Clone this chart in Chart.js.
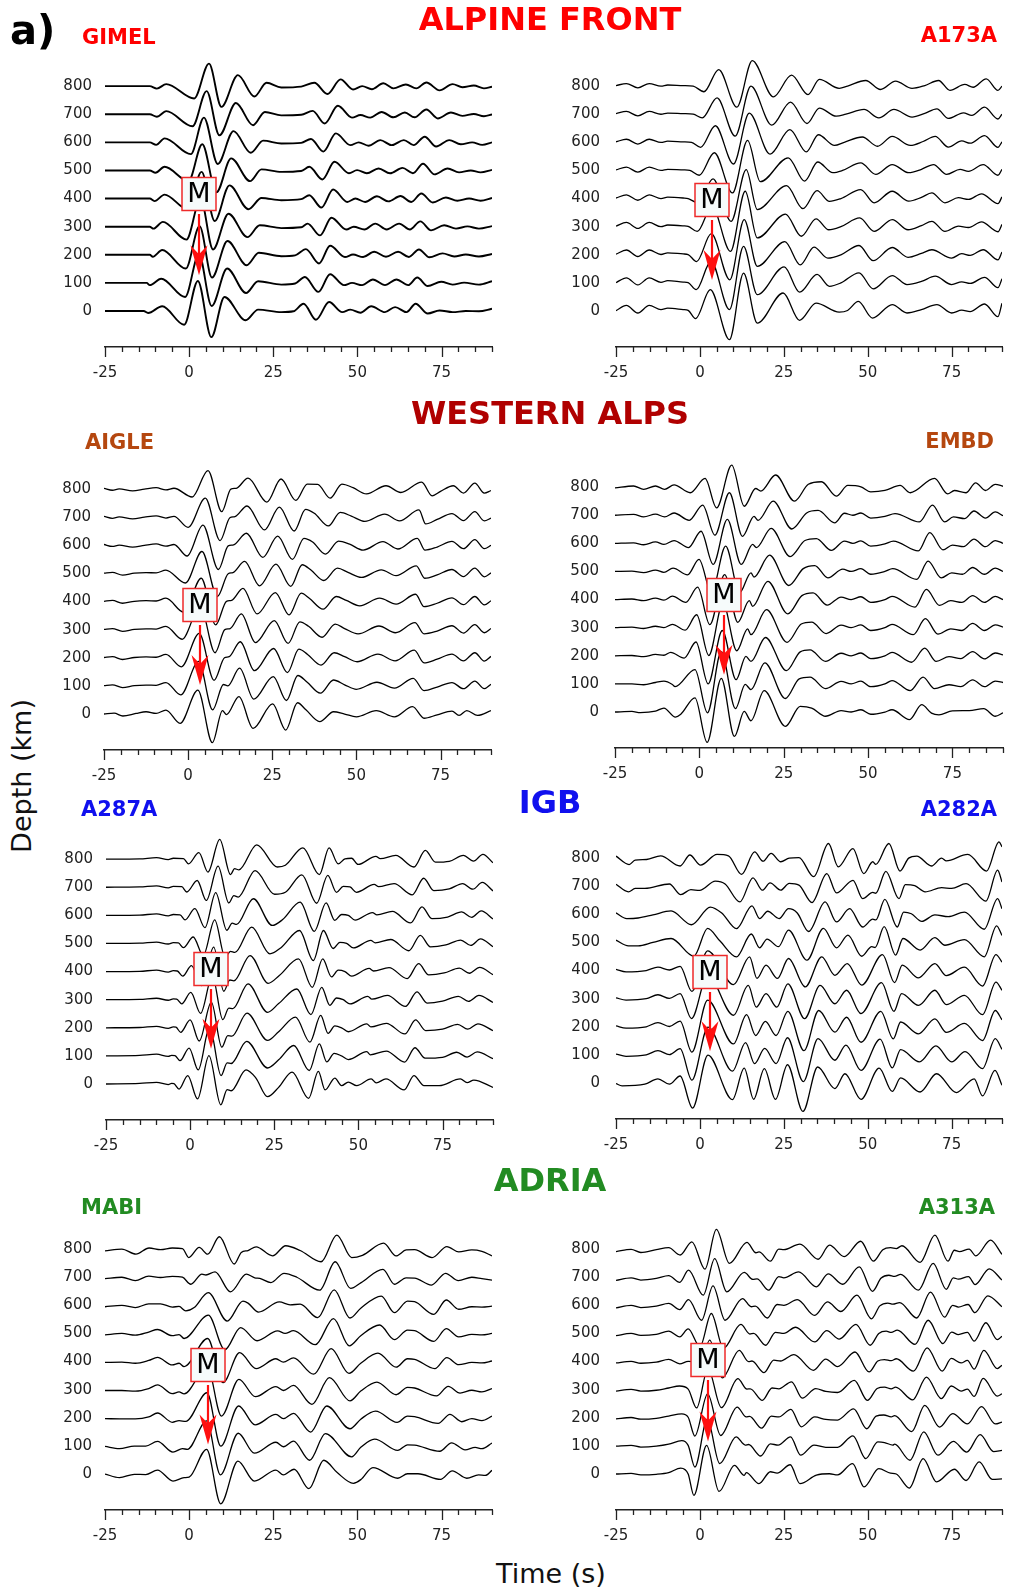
<!DOCTYPE html>
<html>
<head>
<meta charset="utf-8">
<script src="https://cdn.jsdelivr.net/npm/chart.js@4/dist/chart.umd.min.js"></script>
<style>
  body { margin: 0; background: #fff; width: 1009px; height: 1591px; position: relative; overflow: hidden; font-family: "DejaVu Sans", sans-serif; }
  canvas { position: absolute; }
  .lbl { position: absolute; white-space: nowrap; line-height: 1; font-weight: bold; }
</style>
</head>
<body>
<script>
// ---- data: traces are [time (s), amplitude (km)] picked off the figure, top trace first ----
const depths = [800, 700, 600, 500, 400, 300, 200, 100, 0];
const stations = ['GIMEL', 'A173A', 'AIGLE', 'EMBD', 'A287A', 'A282A', 'MABI', 'A313A'];
const regions = ['ALPINE FRONT', 'WESTERN ALPS', 'IGB', 'ADRIA'];

const gimel = [
  [[-25,0],[-11.7,0],[-9.6,-9],[-6.8,7],[1.5,-44],[5.9,80],[9.6,-74],[14.5,39],[19.4,-37],[23,12],[27.4,-5],[33.3,-2],[37.2,12],[41.1,-28],[45,24],[48.7,-12],[51.4,0],[54.3,-11],[57.7,10],[60.7,-8],[64.4,6],[67.5,-8],[70.5,13],[74.4,-15],[78.3,7],[81.2,-4],[84.6,2],[87.6,-8],[90,-2]],
  [[-25,0],[-11.7,0],[-9.6,-9],[-6.8,11],[1,-43],[5.2,82],[9,-75],[13.9,40],[19,-39],[22.5,8],[27.4,-4],[33.3,-2],[36.7,12],[40.3,-33],[44.2,30],[48.4,-12],[50.9,-3],[53.8,-12],[57.2,8],[60.7,-11],[64.1,6],[67,-11],[70.5,17],[73.9,-15],[77.8,6],[81.2,-6],[84.6,1],[87.6,-7],[90,-1]],
  [[-25,0],[-11.7,0],[-9.8,-9],[-7.3,14],[0.5,-42],[4.4,88],[8.5,-77],[13.2,40],[18.3,-37],[22,6],[27.4,-4],[33.3,-2],[36.2,12],[39.9,-33],[43.6,32],[47.9,-10],[50.4,0],[53.3,-12],[56.8,8],[60.2,-10],[63.8,8],[66.7,-10],[70,20],[73.4,-15],[77.3,8],[80.7,-7],[84.1,0],[87.1,-9],[90,0]],
  [[-25,0],[-11.7,0],[-10,-8],[-7.3,13],[-0.2,-38],[3.9,93],[8.1,-78],[12.5,43],[18.1,-38],[21.5,4],[27.4,-5],[33.3,-2],[35.7,13],[39.6,-32],[43.2,31],[47.5,-10],[49.9,1],[52.8,-10],[56.3,7],[59.7,-10],[63.4,9],[66.5,-10],[69.5,24],[72.9,-14],[76.8,7],[80.2,-7],[83.7,0],[86.6,-7],[90,2]],
  [[-25,0],[-11.7,0],[-10.3,-9],[-7.3,14],[-0.5,-38],[3.7,95],[7.6,-80],[12,47],[17.6,-38],[21.5,2],[27.4,-6],[33.3,-2],[35.7,12],[39.3,-32],[42.8,32],[47,-12],[49.4,0],[52.3,-12],[55.8,8],[59.2,-10],[62.8,9],[66,-12],[69,18],[72.4,-14],[76.3,4],[79.7,-8],[83.2,0],[86.6,-8],[90,2]],
  [[-25,0],[-11.7,0],[-10.6,-7],[-7.8,17],[-0.8,-46],[3.4,100],[7.1,-81],[11.7,46],[17.3,-37],[21,5],[27.4,-5],[33.3,-2],[35.2,11],[38.9,-31],[42.3,32],[46.7,-10],[48.9,0],[52.1,-10],[55.3,11],[58.7,-10],[62.4,11],[65.6,-10],[68.7,19],[71.9,-13],[75.8,5],[79.3,-7],[82.7,1],[86.1,-7],[90,2]],
  [[-25,0],[-11.7,0],[-10.8,-7],[-8,17],[-1,-49],[3.1,102],[6.8,-81],[11.4,49],[17.1,-37],[20.7,7],[27.4,-5],[31.5,-2],[34.7,20],[38.6,-31],[41.9,32],[46.3,-8],[48.7,1],[51.7,-8],[55,11],[58.5,-7],[62.1,11],[65.3,-8],[68.3,19],[71.4,-9],[75.3,5],[78.8,-6],[82.2,1],[86.1,-6],[90,3]],
  [[-25,0],[-12.6,0],[-11.7,-8],[-8.3,15],[-1.2,-50],[2.9,102],[6.7,-82],[11.3,51],[16.9,-36],[20.5,6],[27.4,-6],[31.5,-2],[34.4,21],[38.4,-32],[41.9,31],[46,-8],[48.4,0],[51.4,-8],[54.6,12],[58.2,-8],[61.6,12],[65.1,-8],[67.8,19],[70.9,-11],[74.9,4],[78.3,-6],[81.7,1],[86.1,-6],[90,6]],
  [[-25,0],[-13.5,0],[-12.2,-7],[-8,17],[-1.5,-49],[2.6,107],[6.6,-93],[10.5,50],[16.8,-33],[20.5,5],[27.4,-4],[31,-1],[34,26],[37.7,-31],[41.6,32],[45.5,-4],[47.9,5],[50.9,-6],[54.1,17],[58.2,-4],[61.2,14],[64.6,-4],[67.3,26],[70.9,-9],[74.4,2],[78.3,-4],[82.2,0],[86.1,-1],[90,8]]
];

const a173a = [
  [[-25,2],[-21.9,9],[-18.5,-6],[-15.1,9],[-11.6,0],[-9.6,4],[-5,2],[-2,0],[1.2,-20],[5.6,59],[11,-75],[15.6,91],[21.9,-38],[27.3,39],[32.2,-30],[35.6,24],[41.5,-8],[44,0],[49.4,20],[53.8,-12],[58.3,18],[63.2,-8],[67,2],[71.1,20],[74.5,-15],[78.9,6],[81.4,-4],[85.3,26],[88.8,-15],[90,0]],
  [[-25,2],[-21.9,10],[-18.5,-6],[-15.1,10],[-11.6,0],[-9.6,4],[-5,2],[-2,0],[0.7,-13],[5.1,58],[10.5,-78],[15.2,100],[21.4,-39],[27,43],[31.9,-33],[35.6,22],[40.6,-7],[43.5,0],[48.9,17],[53.3,-13],[57.8,17],[63.2,-10],[67,3],[70.6,19],[74,-15],[78.5,5],[81,-4],[84.8,25],[88.8,-17],[90,0]],
  [[-25,2],[-21.9,11],[-18.5,-6],[-15.1,11],[-11.6,0],[-9.6,4],[-5,2],[-2.5,0],[0.2,-18],[4.6,59],[10,-77],[14.7,104],[20.9,-42],[26.8,45],[31.7,-34],[35.3,27],[40.1,-11],[43,0],[48.4,19],[52.9,-14],[57.3,21],[62.7,-11],[66.5,3],[70.1,21],[74,-17],[78,5],[80.5,-3],[84.8,24],[88.8,-18],[90,2]],
  [[-25,2],[-21.9,12],[-18.5,-6],[-15.1,12],[-11.6,0],[-9.6,4],[-5,2],[-3,0],[-0.2,-17],[4.3,63],[9.7,-80],[14.2,107],[18,-40],[26.3,45],[31.2,-38],[35.1,30],[39.6,-8],[42.5,0],[47.9,27],[52.4,-14],[57.3,21],[62.2,-8],[66,4],[69.6,21],[73.5,-14],[77.5,4],[80,-3],[84.4,21],[88.8,-17],[90,4]],
  [[-25,2],[-21.9,13],[-18.5,-6],[-15.1,13],[-11.6,0],[-9.6,5],[-5,2],[-3.5,0],[-0.6,-15],[3.9,70],[9.3,-81],[13.8,103],[17.1,-39],[25.8,46],[30.7,-36],[34.9,28],[38.6,-10],[42,0],[47.9,32],[51.9,-15],[57.3,26],[62.2,-9],[66,4],[69.1,20],[73,-15],[77,3],[80,-3],[83.9,17],[88.8,-18],[90,6]],
  [[-25,2],[-21.9,15],[-18.5,-6],[-15.1,15],[-11.6,0],[-9.6,6],[-5,3],[-3.5,1],[-0.8,-17],[3.6,72],[9.1,-88],[13.5,126],[17.1,-40],[25.5,45],[30.2,-34],[34.6,28],[38.4,-11],[42,0],[47.6,31],[51.9,-17],[57.3,25],[62,-11],[66,4],[69.1,19],[73,-17],[77,2],[80,-3],[83.9,17],[88.8,-18],[90,8]],
  [[-25,2],[-21.9,17],[-18.5,-6],[-15.1,17],[-11.6,1],[-9.6,7],[-5,3],[-3.5,1],[-1,-24],[3.4,75],[8.9,-89],[13.2,125],[17.1,-41],[25.3,47],[29.9,-36],[34,27],[38.1,-12],[42,0],[47.4,33],[51.6,-21],[57.3,26],[62,-9],[66,5],[69.1,18],[75,-12],[78,4],[80.5,-2],[84.4,18],[88.8,-18],[90,10]],
  [[-25,1],[-21.9,18],[-18.5,-7],[-15.1,18],[-11.6,2],[-9.6,8],[-5,3],[-3.5,1],[-1.1,-24],[3.3,77],[8.8,-95],[13,130],[17.1,-42],[25.1,57],[29.7,-33],[34.9,30],[38.6,-12],[42,0],[47.4,36],[51.6,-21],[57.3,26],[61.7,-6],[66,5],[70.1,24],[75,-6],[78,4],[80.5,-2],[84.8,20],[88.8,-17],[90,15]],
  [[-25,1],[-21.9,20],[-18.5,-7],[-15.1,20],[-11.6,5],[-9.6,10],[-5,5],[-3.5,2],[-1.3,-27],[3.1,76],[8.8,-102],[13,135],[17.1,-43],[24.8,64],[29.7,-33],[34.6,28],[41.5,-4],[44,2],[47.2,34],[51.4,-25],[57.3,23],[61.7,-7],[66,5],[70.6,23],[75,-7],[78,3],[80.5,-2],[84.8,25],[88.8,-20],[90,28]]
];

const aigle = [
  [[-25,3],[-22.5,-4],[-20.5,1],[-16.5,-6],[-13,0],[-9.5,5],[-6.6,-3],[-4.2,3],[1.2,-28],[5.9,66],[10,-80],[12.7,0],[14.3,3],[17.8,39],[23.4,-46],[27.6,36],[32,-40],[35.4,18],[38.5,17],[42.2,-32],[45.7,18],[49,5],[53,-17],[58.8,12],[63.2,-12],[69.4,25],[72.5,-24],[75,-8],[78.8,12],[81.8,-14],[85.2,21],[88,-14],[90,-5]],
  [[-25,3],[-22.5,-4],[-20.5,1],[-16.5,-6],[-13,0],[-9.5,5],[-6.6,-3],[-4.2,3],[0,-36],[5.1,68],[9.5,-83],[12.4,-2],[13.9,2],[17.5,40],[22.7,-45],[27.1,36],[31.5,-49],[34.9,28],[37.5,14],[41.7,-31],[45.2,17],[48.5,4],[52.5,-15],[58.4,11],[62.8,-13],[68.6,26],[70.6,-24],[74,-8],[78.4,13],[81.8,-12],[85.2,20],[88,-13],[90,-3]],
  [[-25,3],[-22.5,-4],[-20.5,1],[-16.5,-6],[-13,0],[-9.5,5],[-6.6,-3],[-4.2,3],[-0.3,-38],[4.4,72],[9,-86],[11.9,-2],[13.5,2],[17.3,43],[22.2,-43],[26.6,33],[31,-50],[34.4,25],[37,12],[40.8,-31],[44.7,15],[48,4],[52,-17],[57.9,13],[62.3,-13],[68.1,25],[70.4,-17],[74,-6],[78.4,14],[81.8,-12],[85.2,20],[88,-12],[90,0]],
  [[-25,1],[-22.5,4],[-19.5,-6],[-16,1],[-12.5,3],[-9.5,2],[-6.6,12],[-0.8,-34],[4.1,78],[8.7,-82],[11.9,-1],[13.3,3],[16.8,43],[21.2,-44],[26.1,33],[30.5,-46],[33.9,31],[36.5,12],[40.3,-25],[44.4,19],[47.5,4],[51.5,-14],[57.4,13],[61.8,-8],[67.8,27],[70.3,-17],[74,-5],[78.4,14],[81.8,-11],[85.2,19],[88,-12],[90,2]],
  [[-25,1],[-22.5,4],[-19.5,-6],[-16,1],[-12.5,3],[-9.5,2],[-6.6,12],[-1.3,-38],[3.9,83],[8.2,-83],[11.4,1],[12.9,4],[16.3,47],[20.5,-44],[25.9,32],[30,-47],[33.6,30],[36,12],[40.1,-27],[44,18],[47,4],[51,-15],[56.9,12],[61.8,-9],[67.6,26],[70.1,-18],[74,-6],[78.4,13],[81.8,-11],[85.2,18],[88,-12],[90,3]],
  [[-25,1],[-22.5,4],[-19.5,-6],[-16,1],[-12.5,3],[-9.5,2],[-6.6,12],[-1.8,-34],[3.6,84],[8,-82],[10.9,0],[12.5,4],[15.8,56],[20,-46],[25.6,32],[29.7,-49],[33.2,28],[35.8,12],[39.8,-27],[43.7,20],[46.5,4],[50.5,-15],[56.7,13],[61.6,-11],[67.4,25],[70.1,-15],[74,-5],[78.4,14],[81.8,-12],[85.2,18],[88,-11],[90,4]],
  [[-25,1],[-22.5,4],[-19.5,-6],[-16,1],[-12.5,3],[-9.5,2],[-6.6,12],[-2,-32],[3.3,87],[7.7,-80],[10.8,0],[12.2,4],[15.5,57],[19.7,-46],[25.4,33],[29.5,-53],[32.9,31],[35.5,12],[39.5,-26],[43.4,18],[46.5,4],[50.2,-14],[56.4,13],[61.5,-11],[67.2,27],[70.1,-18],[74,-5],[78.4,13],[81.8,-11],[85.2,18],[88,-12],[90,5]],
  [[-25,1],[-22.5,4],[-19.5,-6],[-16,1],[-12.5,3],[-9.5,2],[-6.6,12],[-2.2,-32],[3.1,87],[7.3,-85],[10.5,5],[11.8,0],[15.3,63],[19.5,-47],[25.3,33],[29.2,-52],[32.6,37],[35.3,14],[39.3,-26],[43.2,21],[46.5,4],[50,-12],[56.1,13],[61.3,-8],[66.9,27],[70.1,-17],[74,-4],[78.4,12],[81.8,-10],[85.2,17],[88,-10],[90,6]],
  [[-25,0],[-22,3],[-19.4,-7],[-15.5,2],[-12.5,8],[-9.5,2],[-6.6,14],[-2.4,-33],[2.9,85],[7.2,-102],[10.2,12],[11.4,-2],[15.1,62],[19.3,-51],[25.1,36],[29,-57],[32.5,40],[35,15],[39.1,-27],[43.2,8],[46.5,0],[50,-10],[55.9,12],[61.3,-10],[66.7,26],[70.1,-15],[74,-3],[78.4,10],[80.5,-5],[82.8,12],[86,-5],[90,12]]
];

const embd = [
  [[-25,-3],[-19.5,4],[-16.5,-8],[-13,4],[-10.3,-8],[-7.5,8],[-2.7,-20],[1.7,31],[5.1,-74],[9.6,78],[13.3,-68],[16.7,-5],[18.2,-14],[22.6,43],[28.2,-50],[32.3,10],[36.2,19],[40.6,-32],[44,6],[47.9,1],[50.8,-17],[55,-12],[59.5,6],[62.5,-20],[69.7,31],[73.6,-24],[75.6,-12],[79,-20],[81.9,15],[84.8,-12],[87.7,10],[90,3]],
  [[-25,0],[-19.5,3],[-16.5,-6],[-13,4],[-10.3,-6],[-7.5,8],[-3,-18],[1,36],[4.6,-71],[8.9,80],[12.8,-75],[16.2,-4],[17.4,-18],[21.9,50],[27.4,-49],[31.8,8],[35.2,17],[40.1,-27],[43,7],[45.5,0],[47.9,8],[50.8,-10],[55,-4],[58,6],[65.2,-24],[69.1,36],[72.7,-24],[75.3,-6],[78.6,-12],[81.4,15],[84.8,-10],[87.7,12],[90,-2]],
  [[-25,0],[-19.5,2],[-16.5,-5],[-13,5],[-10.5,-4],[-7.5,10],[-3.2,-15],[0.5,43],[4.1,-75],[8.3,85],[12.4,-75],[15.8,-4],[16.9,-15],[21.3,53],[26.9,-47],[31.3,10],[34.7,17],[39.1,-25],[43,8],[45.5,0],[47.9,9],[50.8,-10],[55,-2],[57.5,8],[64.9,-27],[68.3,38],[72.2,-23],[75,-6],[78.3,-12],[81.4,15],[84.8,-12],[87.7,10],[90,0]],
  [[-25,0],[-20,1],[-16.5,-4],[-13,5],[-10.5,-3],[-7.8,12],[-3.5,-12],[-0.1,43],[3.6,-76],[7.8,90],[11.9,-76],[15.3,-5],[16.2,-20],[20.8,58],[26.5,-50],[30.8,10],[34.2,21],[38.1,-23],[42.5,8],[45,0],[47.9,10],[50.8,-10],[55,0],[57.3,10],[64.4,-28],[67.8,37],[71.7,-23],[74.8,-5],[78,-10],[81,14],[84.5,-10],[87.7,12],[90,0]],
  [[-25,0],[-20,2],[-16.5,-4],[-13,5],[-10.5,-2],[-8,12],[-4,-10],[-0.5,44],[3.1,-89],[7.5,89],[11.4,-81],[14.8,-4],[15.8,-24],[20.3,65],[26.2,-51],[30.4,14],[33.7,24],[37.9,-20],[42,9],[45,0],[47.9,10],[50.8,-10],[55,0],[57.1,11],[63.9,-27],[67.3,36],[71.2,-21],[74.5,-4],[77.8,-10],[81,14],[84.5,-10],[87.7,11],[90,0]],
  [[-25,0],[-20,2],[-16.5,-3],[-13,5],[-10.5,0],[-8,12],[-4.2,-9],[-0.8,46],[2.8,-99],[7,88],[11.1,-82],[14.3,-4],[15.3,-25],[19.9,64],[26,-52],[30.2,13],[33.3,20],[37.6,-21],[42,9],[45,0],[47.9,10],[50.8,-10],[55,0],[57.1,12],[63.4,-25],[67,32],[70.7,-23],[74.5,-4],[77.8,-10],[81,15],[84.5,-10],[87.7,10],[90,2]],
  [[-25,0],[-20,1],[-16.5,-3],[-13,5],[-10.5,2],[-8.5,12],[-4.5,-8],[-1,49],[2.6,-100],[6.8,90],[10.9,-85],[13.8,-2],[15.3,-20],[19.6,65],[25.8,-53],[29.9,14],[32.8,21],[37.4,-20],[42,9],[45,0],[47.9,10],[50.8,-10],[55,0],[57.1,12],[62.9,-23],[66.8,27],[70.2,-20],[74,-3],[77.5,-10],[81,15],[84.5,-11],[87.7,10],[90,3]],
  [[-25,0],[-20,0],[-16.5,-3],[-13,5],[-10.5,10],[-8,-2],[-7.2,-10],[-1.3,51],[2.4,-103],[6.5,115],[10.7,-88],[13.6,-2],[15.3,-20],[19.4,75],[25.5,-52],[29.6,18],[32.8,24],[37.4,-17],[42,9],[45,0],[47.9,10],[50.8,-10],[55,0],[57.1,12],[62.5,-24],[66.3,24],[69.7,-17],[74,-3],[77.5,-10],[81,14],[84.5,-10],[87.7,10],[90,5]],
  [[-25,0],[-20,2],[-17.5,-2],[-13,3],[-10.5,14],[-7.1,-18],[-5.5,-8],[-1.3,50],[2.3,-108],[6.5,120],[10.4,-87],[13.3,2],[15.3,-31],[19.2,76],[25.5,-51],[29.9,20],[33.3,14],[37.4,-15],[42,5],[45,0],[47.9,8],[50.8,-8],[55,0],[57.1,8],[62.3,-27],[65.9,26],[68.8,-4],[71,-10],[75,4],[80,5],[84.3,12],[87.7,-15],[90,-3]]
];

const a287a = [
  [[-25,0],[-15,1],[-10,5],[-6.5,-2],[-5,3],[-2,2],[-0.5,-17],[2.6,23],[5.3,-46],[8.8,70],[12,-55],[13.2,-34],[14.5,-38],[19.8,51],[25.9,-28],[28.3,-22],[33.5,40],[38.4,-55],[41.3,40],[44,-17],[46,1],[48,3],[49.9,-19],[55.2,10],[56.5,2],[61.1,13],[66.5,-28],[69.9,31],[72.9,-11],[77,-8],[81.2,13],[84.2,-7],[87,17],[90,-13]],
  [[-25,0],[-15,1],[-10,5],[-6.5,-2],[-5,3],[-2.5,2],[-1,-17],[2.1,24],[4.8,-47],[8.3,75],[11.5,-56],[13,-30],[14.3,-35],[19.3,59],[25.1,-25],[28.3,-18],[33.2,44],[37.6,-57],[40.9,42],[43.5,-18],[45.5,3],[47.5,1],[49.4,-18],[54.7,10],[56,2],[60.6,13],[66,-27],[69.4,32],[72.4,-12],[77,-6],[81,13],[84,-7],[86.8,17],[90,-13]],
  [[-25,0],[-15,1],[-10,5],[-6.5,-2],[-5,3],[-3,2],[-1.5,-16],[1.4,24],[4.4,-44],[7.6,81],[10.9,-53],[12.5,-28],[13.8,-32],[18.8,59],[24.4,-36],[27.5,-15],[32.7,47],[36.9,-57],[40.4,44],[43,-18],[45,3],[47,0],[49,-17],[54.2,10],[55.5,2],[60.1,14],[65.5,-27],[68.9,30],[71.9,-12],[76.5,-6],[80.7,12],[83.7,-7],[86.5,16],[90,-13]],
  [[-25,0],[-15,1],[-10,5],[-6.5,-2],[-5,3],[-3.5,2],[-2,-15],[0.9,23],[3.9,-43],[7.3,84],[10.4,-49],[12,-28],[13.3,-32],[18.3,58],[23.7,-37],[27,-15],[32.5,46],[36.6,-61],[39.6,46],[42.5,-18],[44.5,4],[46.5,0],[48.5,-16],[53.7,11],[55,2],[59.6,14],[65,-26],[68.4,29],[71.4,-12],[76,-5],[80.4,12],[83.4,-7],[86.3,16],[90,-12]],
  [[-25,0],[-15,1],[-10,5],[-6.5,-2],[-5,3],[-3.8,2],[-2.2,-16],[0.4,21],[3.4,-50],[7,87],[10,-70],[11.8,-30],[13,-33],[17.8,57],[23.2,-42],[26.5,-14],[32.2,45],[36.3,-56],[39.4,45],[42,-19],[44,5],[46,0],[48,-16],[53.2,11],[54.5,2],[59.1,14],[64.5,-25],[67.9,28],[70.9,-12],[75.5,-5],[80,12],[83,-6],[86,15],[90,-11]],
  [[-25,0],[-15,1],[-10,5],[-6.5,-2],[-5,3],[-4,2],[-2.5,-15],[0.2,26],[3.1,-49],[6.6,85],[9.7,-71],[11.5,-30],[12.7,-32],[17.2,56],[23,-45],[26.3,-14],[31.7,38],[35.9,-53],[39.1,44],[41.5,-20],[43.5,6],[45.5,0],[47.5,-15],[52.8,12],[54,2],[58.6,15],[64,-24],[67.4,28],[70.4,-12],[75,-5],[79.7,12],[82.7,-6],[85.8,15],[90,-10]],
  [[-25,0],[-15,1],[-10,5],[-6.5,-2],[-5,3],[-4.2,2],[-2.8,-16],[0,28],[2.7,-47],[6.3,91],[9.4,-69],[11.2,-28],[12.4,-30],[16.9,52],[23,-45],[26.3,-14],[31.3,38],[35.6,-51],[38.8,44],[41,-20],[43,7],[45,0],[47,-14],[52.5,14],[53.7,3],[58.3,16],[63.8,-22],[67,28],[70,-10],[75,-5],[79.5,12],[82.5,-5],[85.5,14],[90,-10]],
  [[-25,0],[-15,2],[-10,6],[-6.5,-2],[-5.5,2],[-4.5,1],[-3,-17],[-0.3,28],[2.4,-50],[5.8,102],[9.2,-70],[11,-25],[12.2,-27],[16.8,52],[23,-43],[26.3,-14],[30.8,37],[35.4,-52],[38.4,43],[40.6,-21],[42.8,9],[45,0],[47,-13],[52.5,15],[53.5,4],[58.3,17],[63.7,-22],[66.8,29],[69.8,-8],[75,-5],[79.2,13],[82.3,-4],[85.3,14],[90,-10]],
  [[-25,0],[-15,2],[-10,6],[-6.5,-2],[-5.5,2],[-4.8,1],[-3.3,-18],[-0.7,30],[2.2,-53],[5.6,101],[9.1,-74],[11,-20],[12.2,-24],[16.6,50],[19.5,22],[23,-45],[26.3,-12],[30.3,42],[35.2,-51],[38.1,45],[40.1,-21],[43,21],[45,-6],[47,7],[49.5,-6],[53.8,18],[55.3,4],[58.2,18],[63.6,-21],[66.5,30],[69.5,-6],[74,-6],[80.3,18],[82.3,5],[84.3,14],[90,-12]]
];

const a282a = [
  [[-25,7],[-21.1,-23],[-19.3,-7],[-15.9,-5],[-11.7,8],[-5.9,-28],[-3,11],[0.2,-25],[5.1,13],[8.5,8],[12.4,-58],[16.3,22],[18.8,-11],[21.2,17],[24.1,-13],[26.6,0],[29.5,2],[33.9,-66],[38.3,52],[41.2,-31],[45.6,34],[48.8,-55],[51.5,-13],[52.4,-22],[56.3,52],[59.6,-46],[62.2,0],[64.6,7],[69,-28],[72,0],[73.4,-10],[79.8,13],[85.4,-46],[89.1,58],[90,40]],
  [[-25,7],[-21.3,-20],[-19.3,-8],[-16.4,-8],[-9.1,8],[-5.7,-30],[-2.7,-12],[-0.1,-15],[4.6,18],[7.5,8],[11.9,-56],[15.8,30],[18.6,-14],[20.9,12],[24.1,-14],[26.6,10],[29.5,4],[33.4,-58],[37.8,45],[40.7,-24],[45.6,21],[48.5,-44],[51.5,-22],[52.4,-25],[55.4,53],[59.3,-44],[61.2,6],[64,2],[67.1,-20],[72,-5],[75,-8],[79.3,9],[85.2,-53],[88.7,57],[90,15]],
  [[-25,5],[-21.8,-15],[-18.4,-13],[-14,-2],[-8.6,12],[-2.5,-37],[3.1,26],[6.5,5],[10.9,-51],[15.5,30],[17.8,-15],[20.2,11],[23.6,-15],[26.4,20],[29,5],[32.4,-61],[37.3,44],[40.7,-27],[44.6,20],[48.5,-45],[51.5,-17],[52.4,-20],[55.1,53],[58.8,-45],[60.7,8],[63,2],[66.1,-25],[70,-2],[74,-8],[78.8,8],[84.7,-53],[88.7,56],[90,20]],
  [[-25,8],[-21.3,-12],[-18.4,-12],[-14,0],[-8.6,14],[-1.8,-49],[2.3,50],[6,5],[10.9,-51],[15.3,30],[17.8,-19],[20,12],[23.4,-15],[26.4,44],[31.9,-63],[36.8,50],[40.7,-19],[44.1,26],[48.2,-49],[51.2,-15],[52.2,-18],[54.9,56],[58.3,-45],[60.5,14],[65.6,-27],[70,17],[73,-10],[78.8,10],[84.7,-51],[88.4,59],[90,25]],
  [[-25,4],[-22,-5],[-16,0],[-12.5,12],[-9.1,2],[-5.9,15],[-2.4,-74],[2.3,70],[10,-50],[14.8,49],[17,-28],[19.7,19],[23.1,-28],[26.4,43],[31.4,-58],[36.3,49],[40.2,-17],[43.9,25],[48.2,-52],[54.4,57],[58,-43],[60.3,19],[65.1,-26],[70,25],[73.4,-18],[78.8,12],[84.2,-55],[88.2,57],[90,30]],
  [[-25,3],[-22,-5],[-16,0],[-12.5,14],[-9.1,1],[-5.9,18],[-2.5,-71],[2.3,85],[10,-59],[14.4,47],[16.8,-30],[19.7,18],[22.9,-30],[26.2,53],[31.2,-71],[35.8,47],[40.2,-18],[43.7,30],[48,-53],[54.1,57],[57.8,-45],[60.1,18],[65.1,-24],[70,30],[73.4,-21],[78.8,12],[84.2,-57],[88.2,59],[90,30]],
  [[-25,3],[-22,-5],[-16,0],[-12.5,15],[-9.1,1],[-5.9,20],[-2.4,-90],[2.3,95],[10,-61],[13.9,43],[16.6,-31],[19.5,19],[22.7,-31],[26.2,55],[31,-85],[35.4,58],[40.2,-19],[43.7,34],[48,-55],[53.9,55],[57.6,-43],[59.8,17],[65.1,-25],[70,28],[73.4,-20],[78.8,12],[84.2,-49],[88,58],[90,25]],
  [[-25,3],[-22,-5],[-16,0],[-12.5,15],[-9.1,1],[-5.9,22],[-2.4,-90],[2.4,99],[9.7,-58],[13.6,44],[16.3,-31],[19.3,23],[22.7,-31],[26.1,61],[30.8,-95],[35.2,58],[40.2,-19],[43.5,35],[48,-55],[53.7,56],[57.3,-46],[59.8,19],[65.4,-25],[70.3,32],[75,-25],[79,12],[84.2,-49],[88,58],[90,20]],
  [[-25,-2],[-23.2,-10],[-16.4,-4],[-12.5,15],[-9.1,-4],[-5.9,25],[-2.2,-89],[2.4,99],[9.7,-59],[13.2,53],[16,-58],[19.2,51],[22.5,-58],[26.1,65],[30.7,-101],[35.1,57],[40.2,-20],[43.2,33],[48,-58],[53.4,53],[57.3,-30],[59.8,18],[65.6,-32],[70.5,33],[76.4,-34],[81.7,15],[84.2,-46],[87.9,45],[90,-8]]
];

const mabi = [
  [[-25,-6],[-20,0],[-15.8,-18],[-11.9,4],[-8.5,-2],[-5,4],[-2,2],[-0.1,-30],[3,6],[5.5,-18],[9,44],[13.4,-53],[15.5,-12],[17.5,-5],[19.9,8],[24.8,-24],[28.7,12],[33,-5],[39.2,-45],[43.9,50],[48.3,-30],[51.5,-22],[57.8,21],[61.5,-24],[64.5,-3],[67,-2],[72.2,-30],[76.6,9],[80.1,-10],[84,-3],[87,-8],[90,-24]],
  [[-25,-5],[-20,0],[-16,-12],[-12,4],[-8.5,-1],[-5,3],[-2,0],[0.5,-25],[3.8,11],[5,8],[7.7,19],[12.3,-52],[17,11],[19.5,-2],[21,-4],[24.3,-19],[28.2,14],[32,0],[38.8,-46],[43.4,55],[48,-40],[51,-20],[57.6,28],[61,-25],[64.5,-2],[67,-3],[72,-28],[76.2,14],[80,-12],[84,0],[87,-5],[90,-10]],
  [[-25,-5],[-20,0],[-16,-8],[-12,5],[-8.5,5],[-5,-6],[-3,-4],[-1,-20],[1.5,-8],[5.7,45],[11.3,-56],[16,15],[17.5,8],[20.6,-24],[26.8,12],[30,2],[33,4],[38.2,-44],[43.1,55],[47.8,-45],[51,-10],[57.1,33],[61,-26],[64.9,15],[67,13],[72.7,-32],[76.4,19],[80.1,-14],[84,-5],[87,-6],[90,-3]],
  [[-25,-5],[-20,0],[-16,-6],[-12,5],[-9.4,14],[-5,-8],[-3,-4],[-1.5,-18],[5.7,65],[10.6,-58],[15.3,21],[20.2,-26],[26.3,9],[28.5,0],[31,10],[37.5,-40],[42.9,53],[47.6,-44],[51,-8],[56.6,30],[61,-22],[64.9,12],[67,10],[72.7,-28],[76.4,17],[80.1,-12],[84,-3],[87,-5],[90,0]],
  [[-25,-3],[-20,-2],[-16,-6],[-12,4],[-9.4,15],[-5,-12],[-3,-6],[-1.5,-18],[5.5,82],[10.1,-75],[15,32],[19.9,-25],[25.8,10],[28,-2],[31,13],[37,-45],[42.2,46],[47.5,-42],[51,-6],[56.1,30],[61.5,-20],[64.9,10],[67,8],[73,-25],[76.6,14],[80.1,-11],[84,-3],[87,-5],[90,2]],
  [[-25,-3],[-20,-3],[-16,-5],[-12,4],[-9.4,17],[-5,-14],[-3,-8],[-1.5,-15],[5.4,82],[9.6,-94],[14.8,37],[19.7,-25],[25.8,11],[28,-3],[31,15],[36.5,-52],[41.7,43],[47.8,-40],[51,-5],[55.8,27],[61.5,-18],[64.9,8],[67,6],[73.5,-22],[77,12],[80.5,-12],[84,-2],[87,-8],[90,4]],
  [[-25,-3],[-20,-4],[-16,-4],[-12,3],[-9.4,17],[-5,-16],[-3,-10],[-1,-13],[5.3,89],[9.4,-101],[14.7,42],[19.6,-25],[25.8,12],[28,-3],[31,16],[36.1,-51],[40.9,42],[47.8,-39],[51,-5],[55.4,24],[61.8,-16],[64.9,6],[67,4],[74,-20],[77.5,12],[81,-14],[84,-3],[87,-10],[90,6]],
  [[-25,-2],[-20.7,-10],[-16.3,-1],[-12.9,-1],[-9.4,16],[-4.8,-22],[-2,-10],[-0.5,-12],[5.2,89],[9.3,-103],[14.6,45],[19.4,-26],[25.8,13],[28,-3],[31,17],[35.8,-51],[40.5,44],[48.3,-39],[51,-5],[55.1,24],[62,-16],[64.9,4],[67,3],[74.5,-19],[78,11],[82,-14],[85,-5],[87,-10],[90,10]],
  [[-25,0],[-20.7,-13],[-16.3,-1],[-12.9,-2],[-9.4,14],[-4.8,-25],[-1.5,-13],[0,-11],[5.2,88],[9.4,-106],[14.5,46],[19.4,-25],[25.8,14],[28,-3],[31.2,17],[35.6,-52],[40,49],[44,5],[48.8,-33],[51,-20],[54.6,23],[62,-15],[64.9,1],[68,1],[74.7,-19],[78.2,11],[82.5,-15],[86,-3],[88,-5],[90,13]]
];

const a313a = [
  [[-25,-9],[-20.5,-1],[-17.6,-12],[-13,-2],[-9.3,5],[-5.9,-21],[-2.4,26],[1.5,-71],[4.9,70],[8.8,-51],[14,24],[16.7,-13],[17.6,-10],[21,-43],[23.5,0],[25,-2],[29.8,18],[35.2,-36],[38.6,14],[43,-27],[47.9,28],[51.7,-43],[54.5,-2],[56.8,5],[58.5,2],[60.2,12],[65.6,-47],[70,50],[73.9,-43],[75.8,-4],[77.3,-9],[80.2,0],[82.2,-24],[86.6,32],[90,-19]],
  [[-25,-11],[-20.5,-2],[-17.6,-10],[-13,-4],[-9.3,6],[-6,-18],[-3.4,25],[1,-64],[4.4,66],[8,-52],[13.2,17],[15.8,-8],[17,-6],[20.5,-46],[23.5,2],[25,-2],[29.4,19],[34.7,-34],[38.2,12],[42.5,-25],[47.5,37],[51.4,-50],[54,-3],[56.3,7],[58,3],[59.8,10],[65.1,-46],[69.5,49],[73.4,-43],[75.5,-2],[77,-7],[80,2],[82,-26],[86.2,30],[90,-10]],
  [[-25,-9],[-20.5,0],[-17.6,-8],[-13,-3],[-9.3,7],[-6,-15],[-3.4,20],[0.5,-53],[3.9,69],[7.5,-53],[12.7,24],[15.3,-5],[16.5,-3],[20.1,-45],[23,3],[25,0],[29,20],[34.2,-36],[38,12],[42,-22],[46.8,36],[51.1,-48],[53.6,-2],[56,8],[57.5,4],[59.5,10],[64.6,-45],[68.7,47],[72.9,-42],[75.3,0],[77,-6],[79.9,3],[81.9,-26],[85.8,34],[90,-5]],
  [[-25,-8],[-20.5,0],[-17.6,-7],[-13,-3],[-9.3,8],[-6,-12],[-3.5,16],[0,-47],[3.4,71],[7,-53],[12.2,32],[14.9,-2],[16,0],[19.6,-42],[22.5,4],[25,0],[28.5,22],[34.2,-30],[37.8,10],[41.5,-20],[46.5,32],[50.7,-42],[53.3,0],[55.5,8],[57,4],[58.8,12],[64.1,-39],[68,47],[72.4,-36],[75,5],[77,-4],[79.7,4],[81.7,-27],[85.2,38],[88.6,-22],[90,-10]],
  [[-25,-5],[-20.5,1],[-17.6,-6],[-13,-2],[-9.3,8],[-6,-8],[-3.5,1],[-2,0],[-0.5,-52],[2.9,76],[6.7,-58],[11.7,40],[14.5,0],[15.5,2],[19.1,-39],[22,5],[24,2],[28,25],[33.8,-31],[37.5,9],[41,-18],[46.2,34],[50.4,-37],[53,2],[55,7],[57,3],[58.5,10],[63.6,-34],[67.7,49],[72.2,-34],[74.9,11],[77.8,-5],[79.7,4],[81.7,-27],[84.6,40],[88.6,-25],[90,-13]],
  [[-25,-5],[-20.5,1],[-17.6,-5],[-13,-2],[-9.3,6],[-6.1,13],[-3.5,2],[-1,-65],[2.4,75],[6.4,-64],[11.3,39],[14,2],[15,3],[18.6,-38],[21.5,6],[23.5,3],[27.3,28],[30.5,-30],[34.5,4],[37.5,-6],[41,-10],[46,33],[49.9,-38],[52.8,4],[55,9],[57,3],[58.3,9],[63.4,-36],[67.5,45],[71.9,-32],[74.9,13],[77.8,-5],[79.7,2],[81.7,-24],[84.4,40],[88.6,-23],[90,-15]],
  [[-25,-4],[-20.5,1],[-17.6,-5],[-13,-2],[-9.3,6],[-5.4,14],[-3.5,2],[-1.5,-65],[2.3,85],[6.2,-63],[11.1,38],[13.8,3],[14.8,5],[18.4,-37],[21.3,6],[23.5,3],[27.1,30],[30.2,-32],[34.2,3],[37.5,-6],[41,-8],[45.8,32],[49.7,-39],[52.5,6],[54.8,10],[57,3],[58,8],[63.1,-49],[67,44],[71.4,-33],[75.3,15],[79.7,-22],[83.9,40],[88,-22],[90,-15]],
  [[-25,-1],[-20.5,2],[-17.6,-4],[-13,-1],[-9.3,6],[-5.4,19],[-3.5,2],[-1.5,-75],[2.2,95],[5.9,-63],[10.8,32],[13.5,3],[14.5,5],[18.1,-36],[21,7],[23.3,3],[27,32],[30,-33],[34,3],[37.5,-5],[41,-5],[45.6,36],[49.4,-45],[53,14],[55,12],[57.5,3],[58,6],[62.6,-51],[66.7,50],[70.9,-33],[75.5,16],[79.5,-22],[83.5,40],[87.5,-20],[90,-16]],
  [[-25,0],[-20.5,2],[-17.6,-3],[-13,-1],[-9.3,5],[-5.7,21],[-3.5,0],[-1.8,-76],[2,102],[5.7,-62],[10.3,31],[13.2,-5],[13.8,5],[17.6,-34],[21,8],[23,3],[26.9,33],[29.8,-34],[34.7,-4],[38.6,1],[41,-3],[45.5,37],[48.9,-46],[53.3,19],[56.8,3],[58.5,0],[62.4,-50],[66.5,55],[70.5,-28],[75.8,17],[79.3,-23],[83.2,43],[87.1,-19],[90,-17]]
];

const traces = [gimel, a173a, aigle, embd, a287a, a282a, mabi, a313a];

// "M" markers: time (s), depth of the label, depth where the arrow ends
const markTime = [2.9, 3.6, 3.6, 7.3, 6.1, 2.9, 5.6, 2.5];
const markDepth = [415, 395, 388, 418, 410, 394, 387, 405];
const markTip = [127, 110, 103, 133, 125, 113, 105, 116];

// ---- layout ----
const frames = [ // plot left, x-axis y, plot width
  [105, 347, 392], [616, 347, 391],
  [104, 750, 392], [615, 748, 393],
  [106, 1120, 392], [616, 1119, 391],
  [105, 1510, 392], [616, 1510, 391]
];
const stationColor = ['#ff0000', '#ff0000', '#b5470f', '#b5470f', '#1010ee', '#1010ee', '#228b22', '#228b22'];
const regionColor = ['#ff0000', '#b00000', '#1010ee', '#228b22'];
const regionY = [18.5, 413, 802, 1179.5];
const stationY = [36.5, 34.5, 441.5, 440.5, 809, 809, 1207, 1207];
const stationX = [82, 997, 85, 994, 81, 997, 81, 995];

Chart.defaults.font.family = '"DejaVu Sans", sans-serif';
const AXIS_W = 55, AXIS_H = 45, TOP_PAD = 28, PLOT_H = 289;

const tickMarks = {
  id: 'tickMarks',
  afterDraw(chart) {
    const s = chart.scales.x, ctx = chart.ctx;
    ctx.save();
    ctx.strokeStyle = '#222';
    ctx.lineWidth = 1.3;
    s.ticks.forEach(t => {
      const px = Math.round(s.getPixelForValue(t.value)) + 0.5;
      const len = t.value % 25 === 0 ? 10 : 5;
      ctx.beginPath();
      ctx.moveTo(px, s.top);
      ctx.lineTo(px, s.top + len);
      ctx.stroke();
    });
    ctx.restore();
  }
};

function marker(i) {
  return {
    id: 'marker' + i,
    afterDatasetsDraw(chart) {
      const ctx = chart.ctx, x = chart.scales.x, y = chart.scales.y;
      const cx = Math.round(x.getPixelForValue(markTime[i]));
      const cy = Math.round(y.getPixelForValue(markDepth[i]));
      const ty = y.getPixelForValue(markTip[i]);
      ctx.save();
      ctx.strokeStyle = '#ff1010';
      ctx.lineWidth = 2.2;
      ctx.beginPath();
      ctx.moveTo(cx, cy + 20);
      ctx.lineTo(cx, ty - 18);
      ctx.stroke();
      ctx.fillStyle = '#ff1010';
      ctx.beginPath();
      ctx.moveTo(cx, ty);
      ctx.lineTo(cx - 8.5, ty - 30);
      ctx.lineTo(cx, ty - 21);
      ctx.lineTo(cx + 8.5, ty - 30);
      ctx.closePath();
      ctx.fill();
      ctx.fillStyle = '#f6fbfb';
      ctx.fillRect(cx - 17, cy - 16.5, 34, 33);
      ctx.strokeStyle = '#ee2a2a';
      ctx.lineWidth = 1.5;
      ctx.strokeRect(cx - 17, cy - 16.5, 34, 33);
      ctx.fillStyle = '#000';
      ctx.font = '27px "DejaVu Sans"';
      ctx.textAlign = 'center';
      ctx.textBaseline = 'middle';
      ctx.fillText('M', cx, cy + 1);
      ctx.restore();
    }
  };
}

function makePanel(i) {
  const [left, axisY, w] = frames[i];
  const cv = document.createElement('canvas');
  const W = AXIS_W + w + 2, H = TOP_PAD + PLOT_H + AXIS_H;
  cv.width = W; cv.height = H;
  cv.style.width = W + 'px'; cv.style.height = H + 'px';
  cv.style.left = (left - AXIS_W) + 'px';
  cv.style.top = Math.round(axisY - PLOT_H - TOP_PAD) + 'px';
  document.body.appendChild(cv);

  const datasets = traces[i].map((tr, k) => ({
    data: tr.map(p => ({ x: p[0], y: depths[k] + p[1] })),
    borderColor: '#000',
    borderWidth: i === 0 ? 1.9 : 1.3,
    pointRadius: 0,
    cubicInterpolationMode: 'monotone',
    fill: false
  }));

  new Chart(cv, {
    type: 'line',
    data: { datasets },
    options: {
      responsive: false,
      animation: false,
      devicePixelRatio: 1,
      layout: { padding: { top: TOP_PAD, right: 2, left: 0, bottom: 0 } },
      plugins: { legend: { display: false }, tooltip: { enabled: false } },
      scales: {
        x: {
          type: 'linear', min: -25, max: 90,
          afterFit: s => { s.height = AXIS_H; },
          ticks: {
            stepSize: 5, autoSkip: false, maxRotation: 0, padding: 7,
            color: '#222', font: { size: 15 },
            callback: v => (v % 25 === 0 ? String(v) : '')
          },
          grid: { drawOnChartArea: false, tickLength: 10, color: 'rgba(0,0,0,0)' },
          border: { display: true, color: '#222', width: 1.5 }
        },
        y: {
          type: 'linear', min: -128, max: 900,
          afterFit: s => { s.width = AXIS_W; },
          afterBuildTicks: s => { s.ticks = depths.slice().sort((a, b) => a - b).map(v => ({ value: v })); },
          ticks: { padding: i % 2 ? 16 : 13, color: '#222', font: { size: 15 } },
          grid: { display: false, drawTicks: false },
          border: { display: false }
        }
      }
    },
    plugins: [tickMarks, marker(i)]
  });
}

for (let i = 0; i < 8; i++) makePanel(i);

// ---- text ----
function addText(txt, css) {
  const d = document.createElement('div');
  d.className = 'lbl';
  d.textContent = txt;
  Object.assign(d.style, css);
  document.body.appendChild(d);
  return d;
}
addText('a)', { left: '10px', top: '30px', fontSize: '40px', color: '#000', transform: 'translateY(-50%)' });
regions.forEach((r, k) => addText(r, {
  left: '550px', top: regionY[k] + 'px', fontSize: '32px', color: regionColor[k], transform: 'translate(-50%,-50%)'
}));
stations.forEach((s, i) => {
  const css = { top: stationY[i] + 'px', fontSize: '21px', color: stationColor[i], left: stationX[i] + 'px' };
  css.transform = i % 2 === 0 ? 'translateY(-50%)' : 'translate(-100%,-50%)';
  addText(s, css);
});
addText('Depth (km)', { left: '21px', top: '776px', fontSize: '27px', fontWeight: 'normal', color: '#111', transform: 'translate(-50%,-50%) rotate(-90deg)' });
addText('Time (s)', { left: '551px', top: '1573px', fontSize: '27px', fontWeight: 'normal', color: '#111', transform: 'translate(-50%,-50%)' });
</script>
</body>
</html>
